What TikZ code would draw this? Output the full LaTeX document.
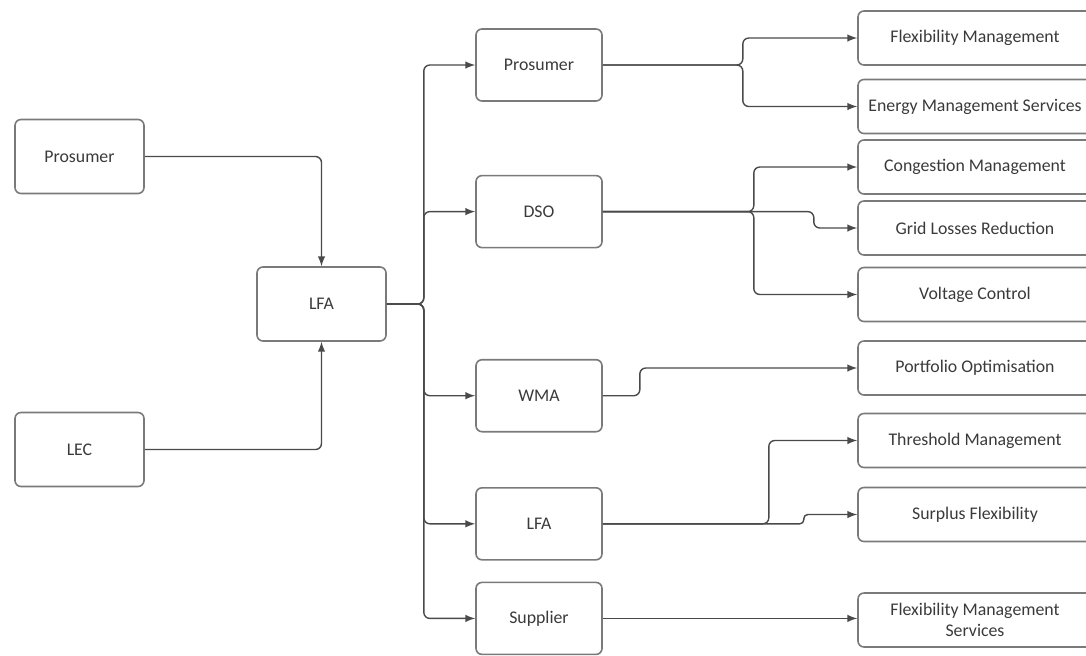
\documentclass[tikz,border=0pt]{standalone}
\usepackage{fontspec}
\setmainfont{Carlito}
\usepackage{tikz}
\usetikzlibrary{arrows, calc, positioning}
\definecolor{boxline}{HTML}{7A7A7A}
\definecolor{wireline}{HTML}{4A4A4A}
\definecolor{labeltext}{HTML}{3A3A3A}
\tikzstyle{block} = [rectangle, rounded corners=3pt, line width=0.8pt, draw=boxline, minimum width=64.5pt, minimum height=37pt, text centered, text=labeltext, font=\fontsize{8.9}{10.5}\selectfont]
\tikzstyle{midblock} = [block, minimum width=63pt, minimum height=36pt]
\tikzstyle{service} = [block, minimum width=117pt, minimum height=27pt, align=center]
\tikzstyle{arrow} = [line width=0.7pt, draw=wireline, rounded corners=3pt, ->, >=latex]
\begin{document}
\begin{tikzpicture}[x=0.5pt, y=-0.5pt]
		\useasboundingbox (0,0) rectangle (1086,655);
		
		% sources
		\node (Prosumer) [block] at (79.5,156.5) {Prosumer};
		\node (LEC) [block, below = 108.7pt of Prosumer] {LEC};
		\node (LFA) [block] at (321.5,304) {LFA};
		
		% actors
		\node (ProsumerB) [midblock] at (539,65) {Prosumer};
		\node (DSO) [midblock, below = 36.5pt of ProsumerB] {DSO};
		\node (WMA) [midblock, below = 55.25pt of DSO] {WMA};
		\node (LFAB) [midblock, below = 27.25pt of WMA] {LFA};
		\node (Supplier) [midblock, below = 10.5pt of LFAB] {Supplier};
		
		% services
		\node (FlexMgmt) [service] at (975,38) {Flexibility Management};
		\node (EnergyMgmt) [service] at (975,106.5) {Energy Management Services};
		\node (Congestion) [service] at (975,167) {Congestion Management};
		\node (GridLosses) [service] at (975,228) {Grid Losses Reduction};
		\node (Voltage) [service] at (975,294.5) {Voltage Control};
		\node (Portfolio) [service] at (975,368) {Portfolio Optimisation};
		\node (Threshold) [service] at (975,440.5) {Threshold Management};
		\node (Surplus) [service] at (975,514.5) {Surplus Flexibility};
		\node (FlexServices) [service] at (975,620) {Flexibility Management\\Services};
		
		\coordinate (Bus) at ($(LFA.east)+(18.5pt,0)$);
		\coordinate (ProsumerSplit) at ($(ProsumerB.east)+(70pt,0)$);
		\coordinate (DSOSplit) at ($(DSO.east)+(75.5pt,0)$);
		\coordinate (DSOJog) at ($(DSO.east)+(105.5pt,0)$);
		\coordinate (WMAJog) at ($(WMA.east)+(18.5pt,0)$);
		\coordinate (LFASplit) at ($(LFAB.east)+(83pt,0)$);
		\coordinate (LFAJog) at ($(LFAB.east)+(100.5pt,0)$);
		
		\draw [arrow] (Prosumer.east) -| (LFA.north);
		\draw [arrow] (LEC.east) -| (LFA.south);
		
		\draw [arrow] (LFA.east) -- (Bus) |- (ProsumerB.west);
		\draw [arrow] (LFA.east) -- (Bus) |- (DSO.west);
		\draw [arrow] (LFA.east) -- (Bus) |- (WMA.west);
		\draw [arrow] (LFA.east) -- (Bus) |- (LFAB.west);
		\draw [arrow] (LFA.east) -- (Bus) |- (Supplier.west);
		
		\draw [arrow] (ProsumerB.east) -- (ProsumerSplit) |- (FlexMgmt.west);
		\draw [arrow] (ProsumerB.east) -- (ProsumerSplit) |- (EnergyMgmt.west);
		
		\draw [arrow] (DSO.east) -- (DSOSplit) |- (Congestion.west);
		\draw [arrow] (DSO.east) -- (DSOJog) |- (GridLosses.west);
		\draw [arrow] (DSO.east) -- (DSOSplit) |- (Voltage.west);
		
		\draw [arrow] (WMA.east) -- (WMAJog) |- (Portfolio.west);
		
		\draw [arrow] (LFAB.east) -- (LFASplit) |- (Threshold.west);
		\draw [arrow, rounded corners=2pt] (LFAB.east) -- (LFAJog) |- (Surplus.west);
		
		\draw [arrow] (Supplier.east) -- (Supplier.east -| FlexServices.west);
		
\end{tikzpicture}
\end{document}
